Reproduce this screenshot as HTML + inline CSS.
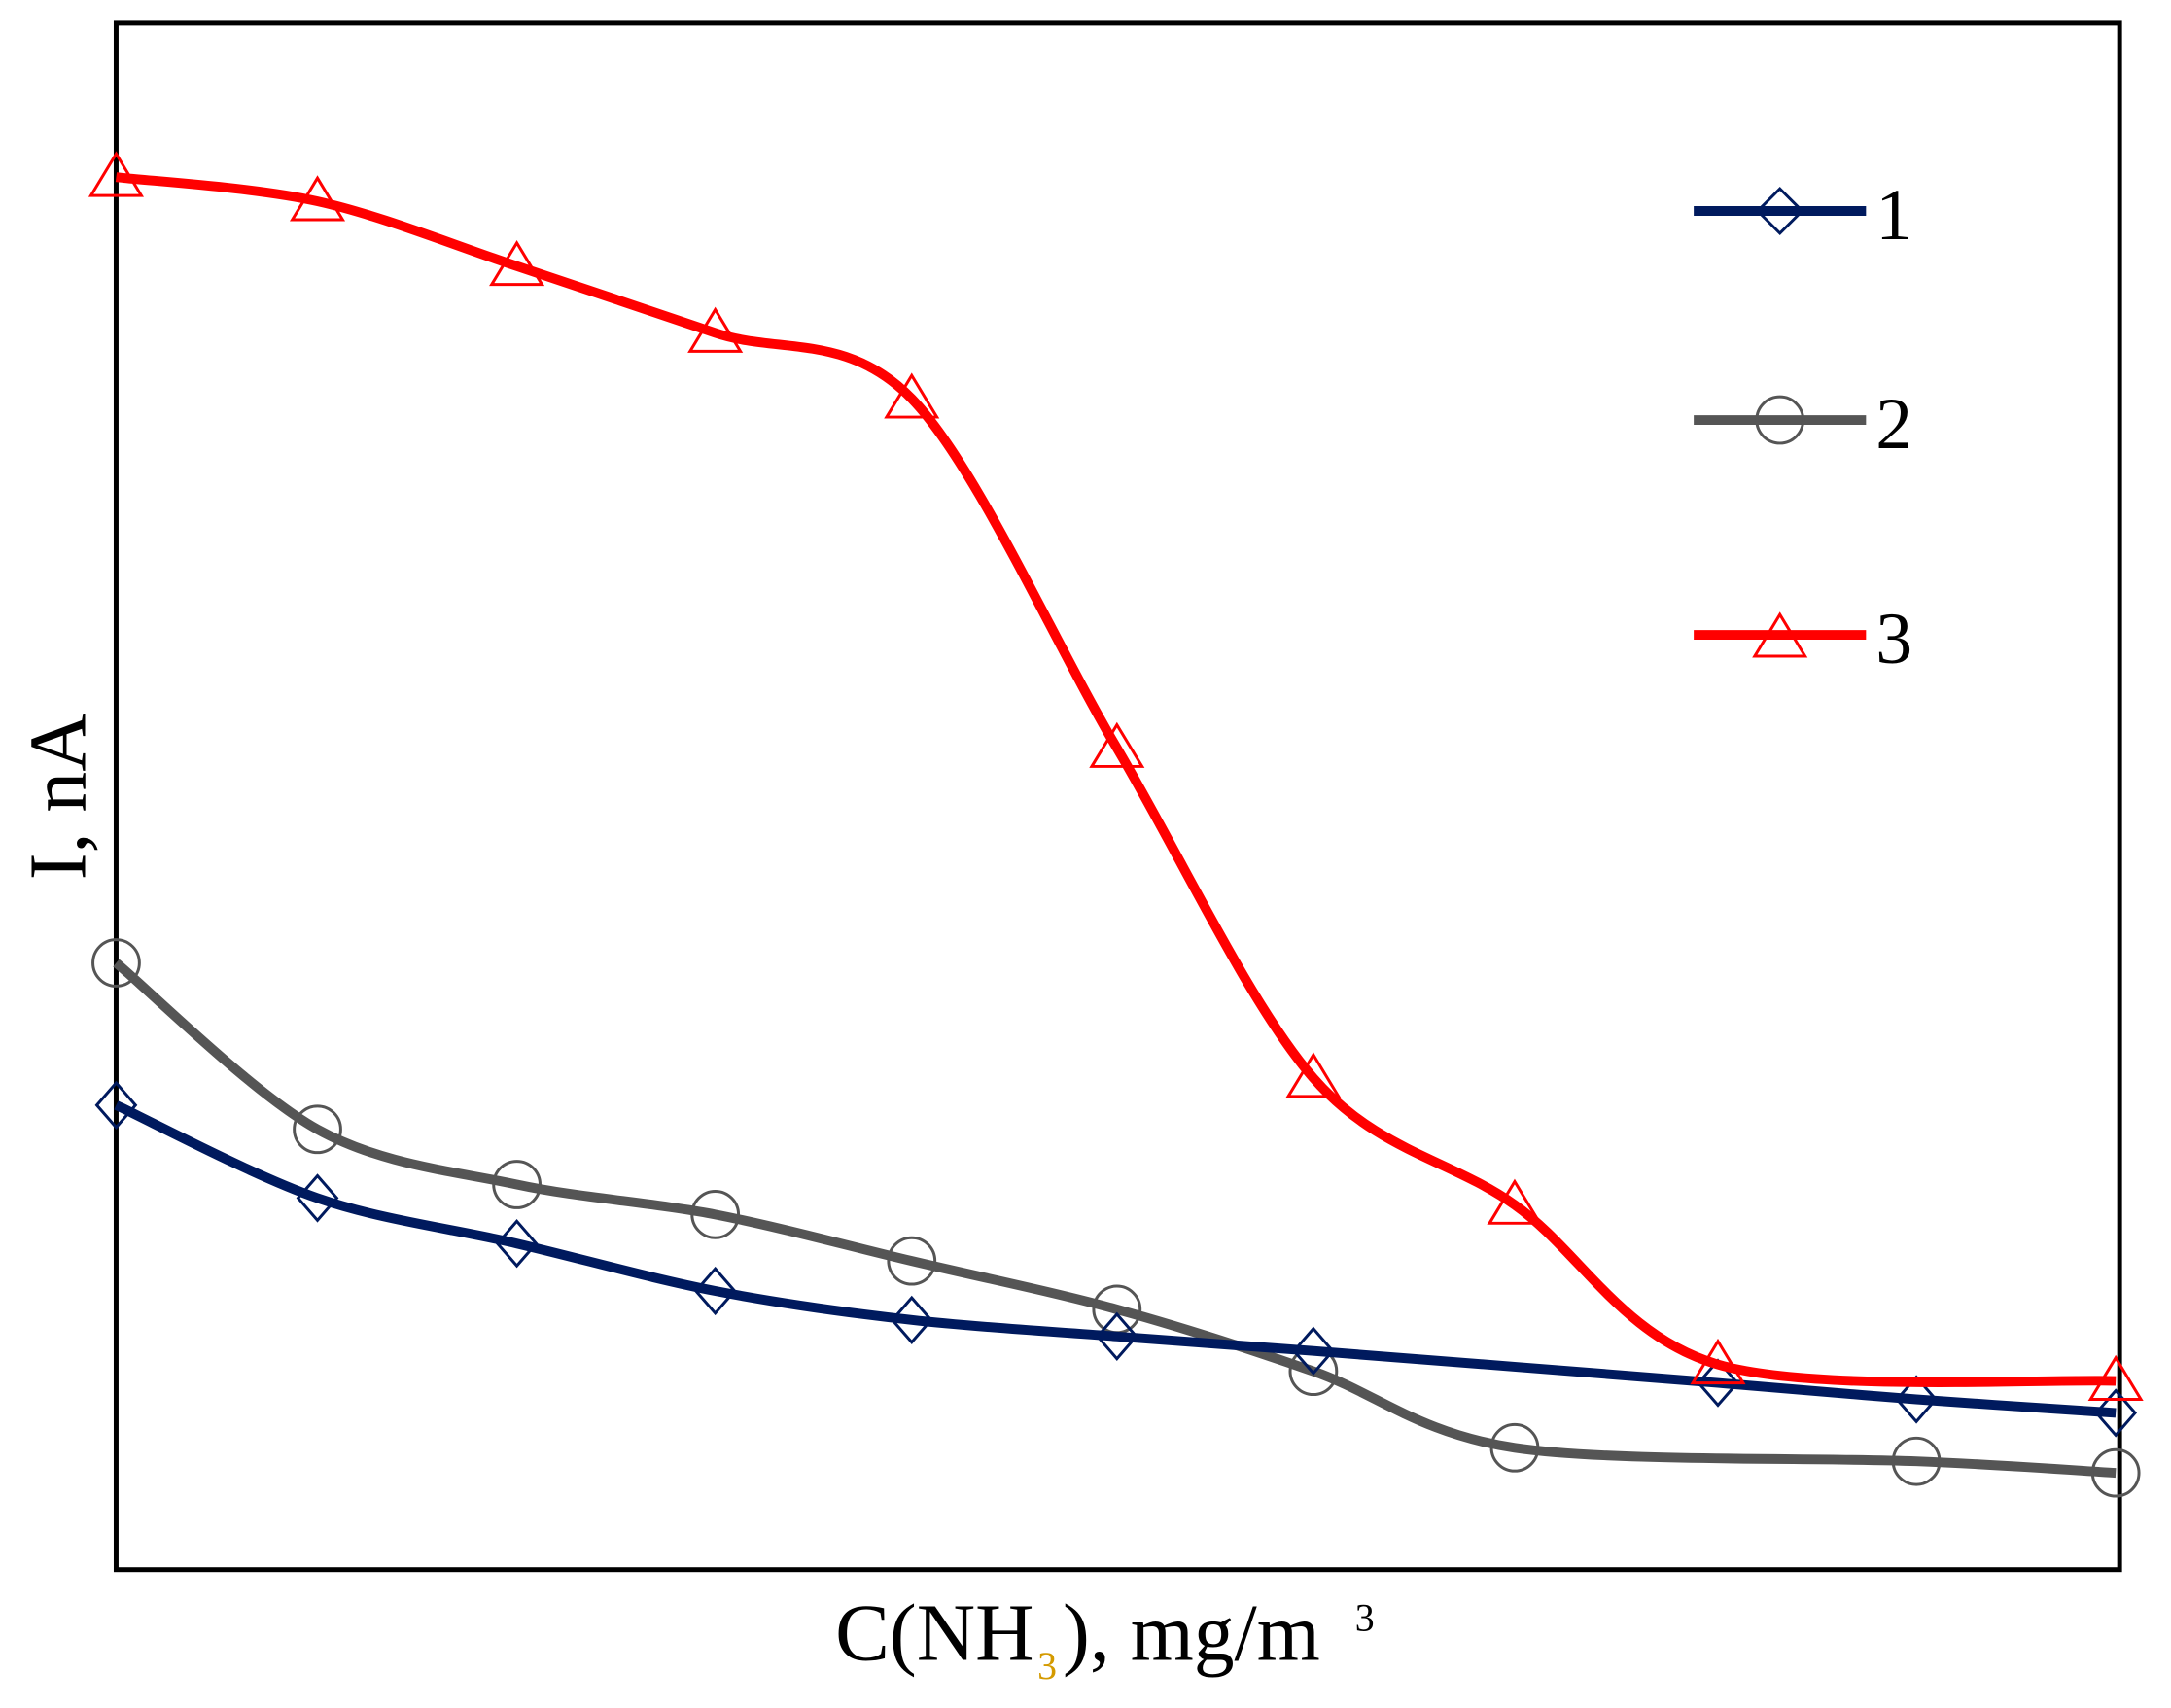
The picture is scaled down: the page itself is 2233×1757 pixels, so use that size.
<!DOCTYPE html>
<html><head><meta charset="utf-8"><style>
html,body{margin:0;padding:0;background:#fff;}
svg{display:block;}
text{font-family:"Liberation Serif",serif;fill:#000;}
</style></head><body>
<svg id="s" width="2233" height="1757" xmlns="http://www.w3.org/2000/svg">
<g transform="scale(0.9955)">
<rect x="120" y="24" width="2070" height="1598" fill="none" stroke="#000" stroke-width="5"/>
<g id="g"></g>
<text x="0" y="0" font-size="84" transform="translate(88,823) rotate(-90)" text-anchor="middle">I, nA</text>
<text x="863" y="1715" font-size="84">C(NH</text><text x="1072" y="1735" font-size="40" style="fill:#d49a00">3</text><text x="1098" y="1715" font-size="84"> ), mg/m</text><text x="1400" y="1685" font-size="40">3</text>
<g transform="translate(10,0)">
<line x1="1740" y1="218" x2="1918" y2="218" stroke="#001a5e" stroke-width="10"/>
<path d="M1829 195 L1852 218 L1829 241 L1806 218 Z" fill="none" stroke="#001a5e" stroke-width="3"/>
<text x="1928" y="247" font-size="76">1</text>
<line x1="1740" y1="434" x2="1918" y2="434" stroke="#555" stroke-width="10"/>
<circle cx="1829" cy="434" r="24" fill="none" stroke="#555" stroke-width="3"/>
<text x="1928" y="463" font-size="76">2</text>
<line x1="1740" y1="656" x2="1918" y2="656" stroke="#f00" stroke-width="10"/>
<path d="M1829 635 L1855 678 L1803 678 Z" fill="none" stroke="#f00" stroke-width="3"/>
<text x="1928" y="685" font-size="76">3</text>
</g>
</g>
</svg>
<script>
var X=[120,328,534,739,942,1154,1357,1565,1775,1980,2186];
var S=[
 {c:"#555",m:"o",y:[995,1167,1224,1255,1303,1353,1417,1496,null,1510,1522],mk:[1,1,1,1,1,1,1,1,0,1,1]},
 {c:"#001a5e",m:"d",y:[1142,1238,1285,1334,1364,1381,1396,null,1429,1446,1460],mk:[1,1,1,1,1,1,1,0,1,1,1]},
 {c:"#f00",m:"t",y:[183,208,275,344,412,773,1114,1245,1410,null,1427],mk:[1,1,1,1,1,1,1,1,1,0,1]}
];
var g=document.getElementById("g"),h="";
S.forEach(function(s){
 var p=[];for(var i=0;i<X.length;i++)if(s.y[i]!==null)p.push([X[i],s.y[i],s.mk[i]]);
 var d="M"+p[0][0]+" "+p[0][1];
 for(var i=0;i<p.length-1;i++){
  var p0=p[Math.max(i-1,0)],p1=p[i],p2=p[i+1],p3=p[Math.min(i+2,p.length-1)],t=0.16;
  var c1x=p1[0]+(p2[0]-p0[0])*t,c1y=p1[1]+(p2[1]-p0[1])*t,c2x=p2[0]-(p3[0]-p1[0])*t,c2y=p2[1]-(p3[1]-p1[1])*t;
  d+=" C"+c1x+" "+c1y+" "+c2x+" "+c2y+" "+p2[0]+" "+p2[1];
 }
 h+='<path d="'+d+'" fill="none" stroke="'+s.c+'" stroke-width="10"/>';
 p.forEach(function(q){
  var x=q[0],y=q[1];
  if(s.m=="o")h+='<circle cx="'+x+'" cy="'+y+'" r="24" fill="none" stroke="'+s.c+'" stroke-width="3"/>';
  if(s.m=="d")h+='<path d="M'+x+' '+(y-23)+' L'+(x+20)+' '+y+' L'+x+' '+(y+23)+' L'+(x-20)+' '+y+' Z" fill="none" stroke="'+s.c+'" stroke-width="3"/>';
  if(s.m=="t")h+='<path d="M'+x+' '+(y-24)+' L'+(x+26)+' '+(y+19)+' L'+(x-26)+' '+(y+19)+' Z" fill="none" stroke="'+s.c+'" stroke-width="3"/>';
 });
});
g.innerHTML=h;
</script>
</body></html>
